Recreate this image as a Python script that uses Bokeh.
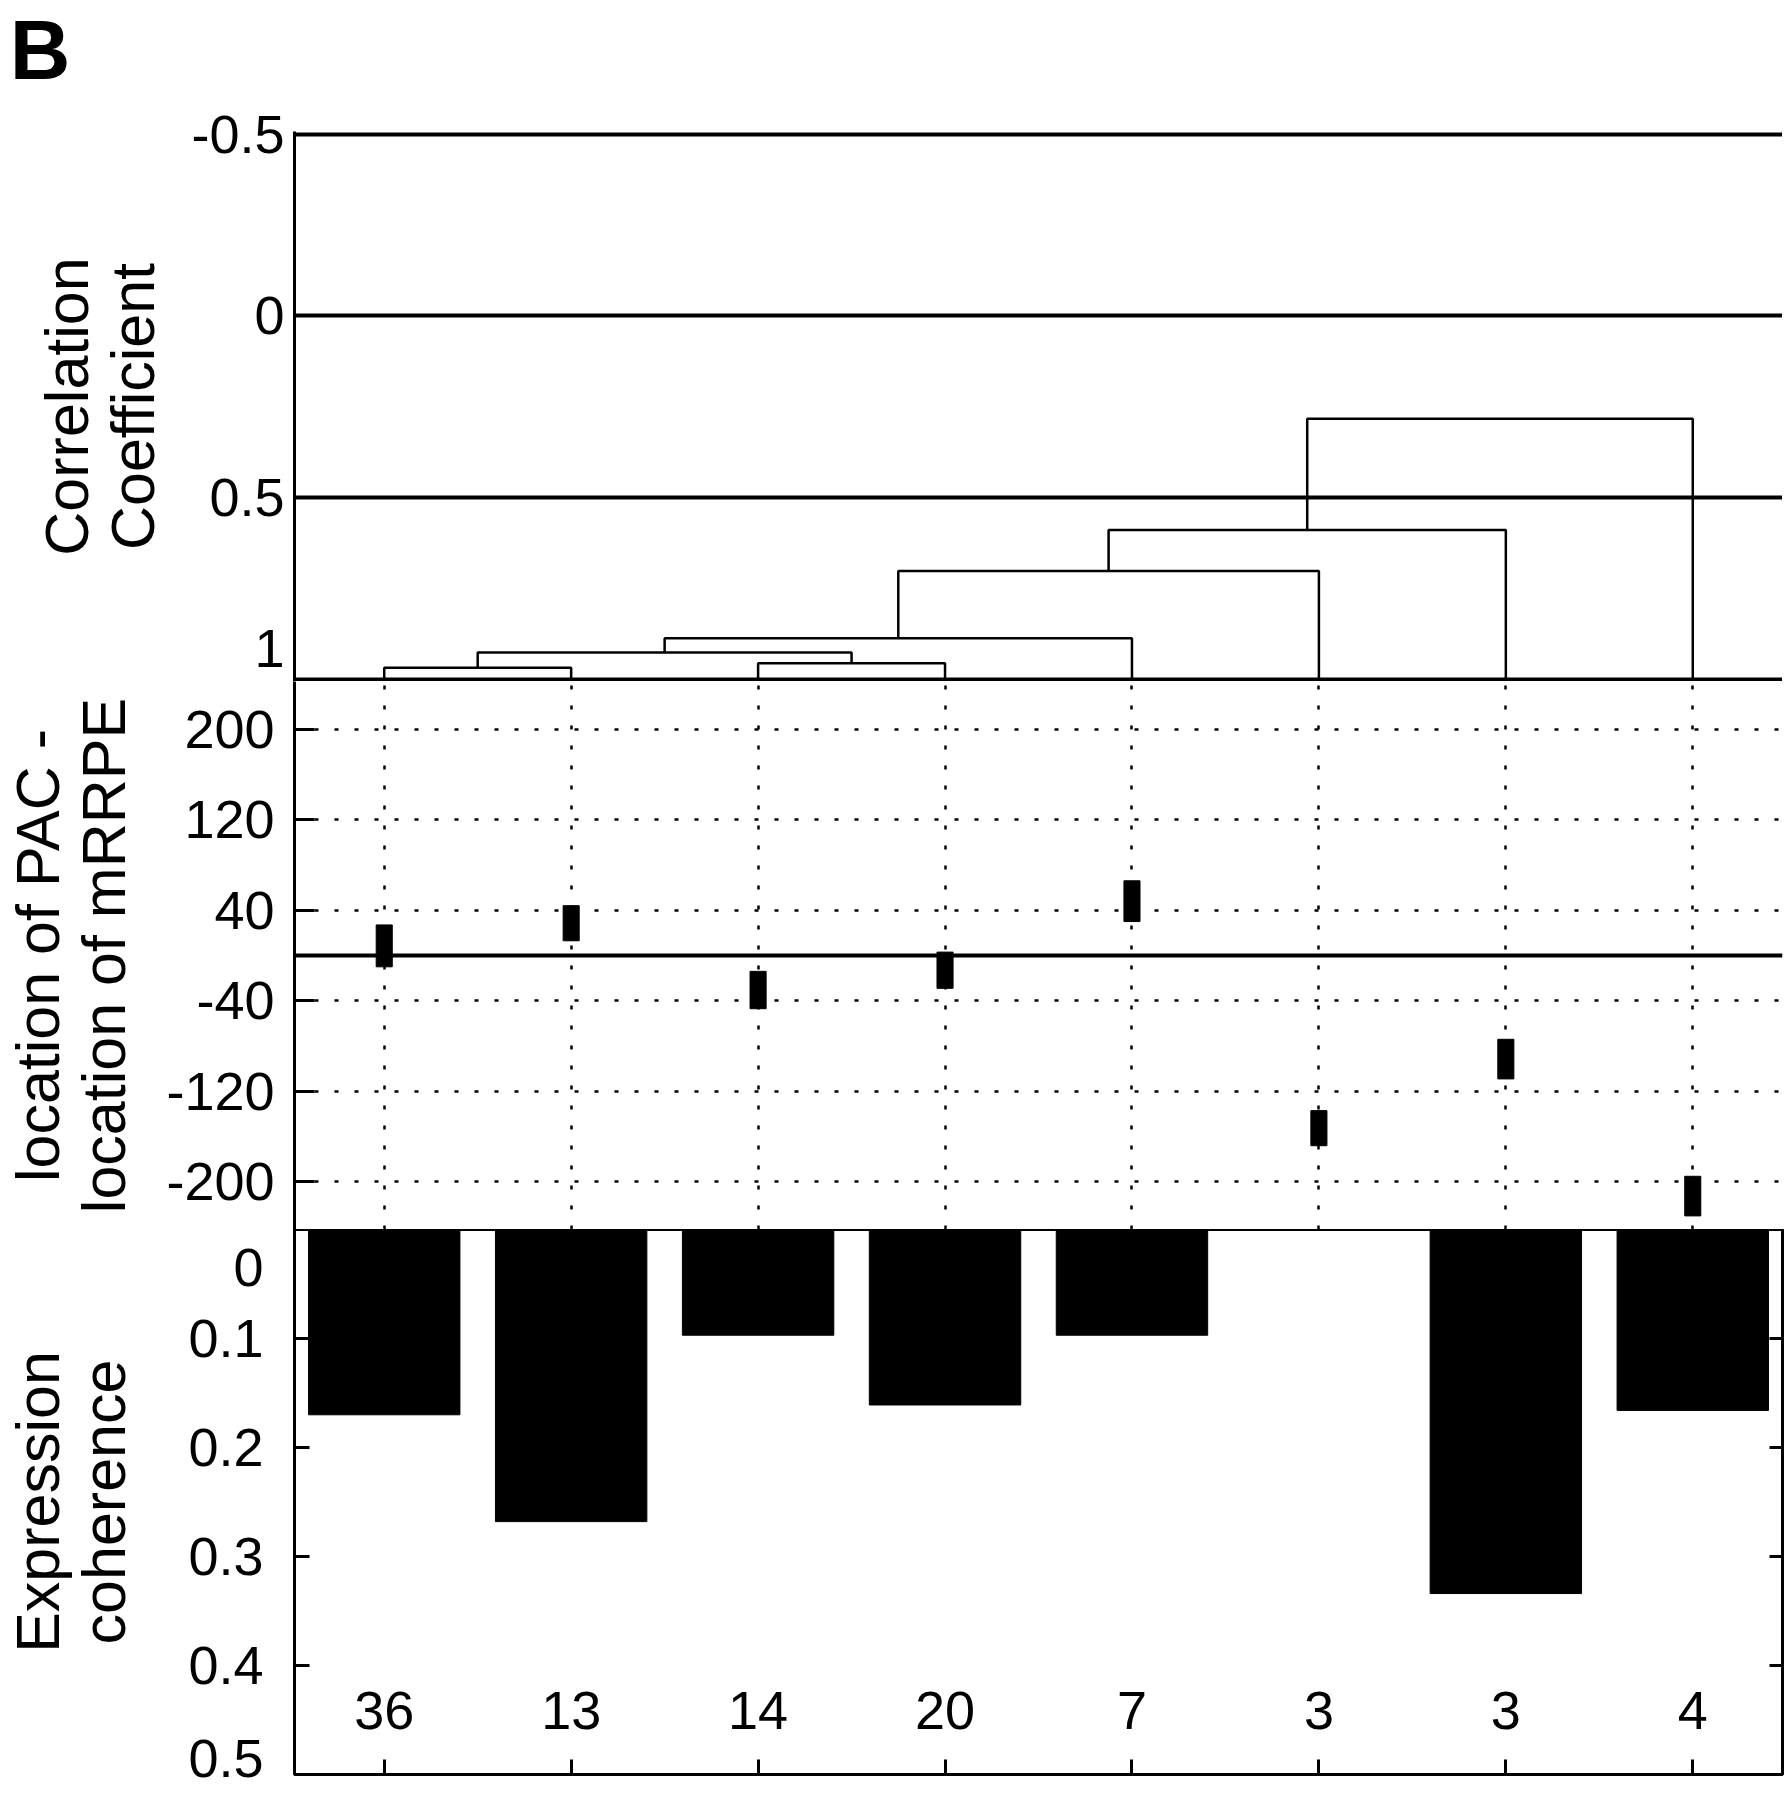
from bokeh.core.properties import value
from bokeh.embed import file_html
from bokeh.layouts import column
from bokeh.models import FixedTicker, LinearAxis, NumeralTickFormatter, Range1d, Span
from bokeh.plotting import figure
from bokeh.resources import INLINE

FONT = "Liberation Sans"

# clusters, left to right
leaf_x = [0, 1, 2, 3, 4, 5, 6, 7]
cluster_sizes = ["36", "13", "14", "20", "7", "3", "3", "4"]

# dendrogram joins (ids >= 8 are the clusters made by earlier joins)
merge_left = [0, 2, 8, 10, 11, 12, 13]
merge_right = [1, 3, 9, 4, 5, 6, 7]
merge_height = [0.968, 0.956, 0.926, 0.887, 0.702, 0.589, 0.283]

# location of PAC - location of mRRPE, range per cluster
loc_top = [27, 44, -14, 3, 66, -137, -74, -195]
loc_bottom = [-10, 13, -47, -29, 30, -168, -109, -230]

# expression coherence per cluster
coherence = [0.170, 0.268, 0.097, 0.161, 0.097, 0.0, 0.334, 0.166]

corr_grid = [-0.5, 0, 0.5, 1]
loc_ticks = [200, 120, 40, -40, -120, -200]
coh_ticks = [0.1, 0.2, 0.3, 0.4]

# end labels sit a little inside their panel, as in the original figure
corr_label_pos = [-0.5, 0, 0.5, 0.915]
coh_label_pos = [0.035, 0.1, 0.2, 0.3, 0.4, 0.485]

LEFT = 289
RIGHT = 5
FW = 1488
HEAD = 98

x_range = Range1d(-0.48, 7.48)


def style_yaxis(ax, label, label_standoff, axis_standoff):
    ax.formatter = NumeralTickFormatter(format="0.[0]")
    ax.axis_label = label
    ax.axis_label_text_font = FONT
    ax.axis_label_text_font_size = "61px"
    ax.axis_label_text_font_style = "normal"
    ax.axis_label_text_color = "black"
    ax.axis_label_text_line_height = 0.98
    ax.axis_label_standoff = axis_standoff
    ax.major_label_text_font = FONT
    ax.major_label_text_font_size = "54px"
    ax.major_label_text_color = "black"
    ax.major_label_standoff = label_standoff
    ax.major_tick_out = 0
    ax.major_tick_line_width = 3
    ax.major_tick_line_color = "black"
    ax.minor_tick_out = 0
    ax.minor_tick_line_width = 3
    ax.minor_tick_line_color = "black"
    ax.axis_line_width = 3
    ax.axis_line_color = "black"


def hide_labels(ax):
    ax.major_label_text_color = None
    ax.major_label_text_font_size = "1px"
    ax.major_label_standoff = 0


# --- panel letter, carried by an empty strip above the plots ---
p0 = figure(x_range=x_range, y_range=Range1d(0, 1),
            frame_width=FW, frame_height=HEAD,
            min_border_left=LEFT, min_border_right=RIGHT,
            min_border_top=0, min_border_bottom=0,
            output_backend="svg", toolbar_location=None)
p0.xaxis.visible = False
p0.grid.visible = False
p0.outline_line_color = None
ax0 = p0.yaxis[0]
ax0.ticker = FixedTicker(ticks=[0.5], minor_ticks=[])
ax0.axis_line_color = None
ax0.major_tick_in = 0
ax0.major_tick_out = 0
ax0.minor_tick_line_color = None
hide_labels(ax0)
ax0.axis_label = "B"
ax0.axis_label_orientation = "horizontal"
ax0.axis_label_text_font = FONT
ax0.axis_label_text_font_size = "84px"
ax0.axis_label_text_font_style = "bold"
ax0.axis_label_text_color = "black"
ax0.axis_label_standoff = 224

# --- top: dendrogram ---
p1 = figure(x_range=x_range, y_range=Range1d(1.006, -0.507),
            frame_width=FW, frame_height=550,
            min_border_left=LEFT, min_border_right=RIGHT,
            min_border_top=131 - HEAD, min_border_bottom=0,
            output_backend="svg", toolbar_location=None)
p1.xaxis.visible = False
p1.xgrid.visible = False
p1.ygrid.ticker = FixedTicker(ticks=corr_grid)
p1.ygrid.grid_line_color = "black"
p1.ygrid.grid_line_width = 4
p1.outline_line_color = None
ax1 = p1.yaxis[0]
ax1.ticker = FixedTicker(ticks=corr_label_pos, minor_ticks=[])
style_yaxis(ax1, "Correlation\nCoefficient", 10, 21)
ax1.major_tick_in = 0
ax1.major_label_overrides = {corr_label_pos[-1]: "1"}

node_x = [float(v) for v in leaf_x]
node_h = [1.0] * len(leaf_x)
xs, ys = [], []
for a, b, h in zip(merge_left, merge_right, merge_height):
    xs.append([node_x[a], node_x[a], node_x[b], node_x[b]])
    ys.append([node_h[a], h, h, node_h[b]])
    node_x.append((node_x[a] + node_x[b]) / 2)
    node_h.append(h)
p1.multi_line(xs, ys, line_color="black", line_width=2.5)

# --- middle: location difference ---
p2 = figure(x_range=x_range, y_range=Range1d(-242, 242),
            frame_width=FW, frame_height=548,
            min_border_left=LEFT, min_border_right=RIGHT,
            min_border_top=0, min_border_bottom=0,
            output_backend="svg", toolbar_location=None)
p2.xaxis.visible = False
p2.outline_line_color = None
p2.xgrid.ticker = FixedTicker(ticks=leaf_x)
p2.ygrid.ticker = FixedTicker(ticks=loc_ticks)
for g in (p2.xgrid[0], p2.ygrid[0]):
    g.grid_line_color = "black"
    g.grid_line_width = 2.5
    g.grid_line_dash = "4 16"
    g.grid_line_alpha = 1
ax2 = p2.yaxis[0]
ax2.ticker = FixedTicker(ticks=loc_ticks, minor_ticks=[])
style_yaxis(ax2, "location of PAC -\nlocation of mRRPE", 20, 25)
ax2.major_tick_in = 20
p2.add_layout(Span(location=0, dimension="width", line_color="black", line_width=4))
p2.vbar(x=leaf_x, top=loc_top, bottom=loc_bottom, width=0.086,
        fill_color="black", line_color="black")

# --- bottom: expression coherence ---
p3 = figure(x_range=x_range, y_range=Range1d(0.5, 0),
            frame_width=FW, frame_height=545,
            min_border_left=LEFT, min_border_right=RIGHT,
            min_border_top=0, min_border_bottom=14,
            output_backend="svg", toolbar_location=None)
p3.grid.visible = False
p3.outline_line_color = "black"
p3.outline_line_width = 3
ax3 = p3.yaxis[0]
ax3.ticker = FixedTicker(ticks=coh_label_pos, minor_ticks=coh_ticks)
style_yaxis(ax3, "Expression\ncoherence", 31, 47)
ax3.major_tick_in = 0
ax3.minor_tick_in = 15
ax3.major_label_overrides = {coh_label_pos[0]: "0", coh_label_pos[-1]: "0.5"}

xax = p3.xaxis[0]
xax.ticker = FixedTicker(ticks=leaf_x, minor_ticks=[])
xax.major_tick_in = 15
xax.major_tick_out = 0
xax.major_tick_line_width = 3
xax.axis_line_width = 3
hide_labels(xax)

rax = LinearAxis(ticker=FixedTicker(ticks=coh_ticks, minor_ticks=[]),
                 major_tick_in=13, major_tick_out=0, major_tick_line_width=3,
                 axis_line_width=3)
hide_labels(rax)
p3.add_layout(rax, "right")

p3.vbar(x=leaf_x, top=coherence, bottom=0, width=0.81,
        fill_color="black", line_color="black")
p3.text(x=leaf_x, y=[0.441] * len(leaf_x), text=cluster_sizes,
        text_align="center", text_baseline="middle",
        text_font_size="54px", text_color="black", text_font=value(FONT))

layout = column(p0, p1, p2, p3, spacing=0)
open("out.html", "w").write(file_html(layout, INLINE))
